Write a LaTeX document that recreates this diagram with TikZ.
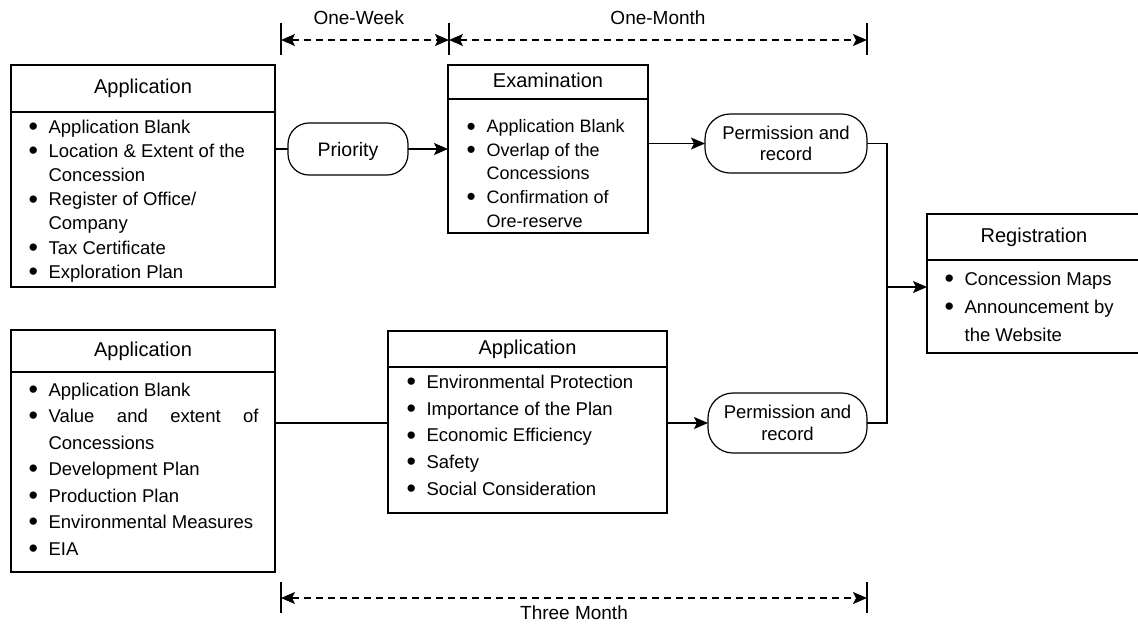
\documentclass[tikz,border=0pt]{standalone}
\usepackage{fontspec}
\setmainfont{Liberation Sans}
\usetikzlibrary{arrows.meta}

% enlarged bullet followed by a fixed gap, used in the item lists
\newcommand{\bitem}{\makebox[20pt][l]{\raisebox{-0.13em}{\scalebox{1.45}{\textbullet}}}}

\begin{document}
\begin{tikzpicture}[x=1pt,y=-1pt,
  line width=1.2pt,
  box/.style={draw,rectangle,inner sep=0pt,outer sep=0pt},
  headbox/.style={box,font=\fontsize{20}{24}\selectfont,text height=14.6pt,text depth=4.2pt},
  pill/.style={draw,rectangle,rounded corners=21pt,inner sep=0pt,outer sep=0pt,
    align=center,font=\fontsize{18.5}{21.7}\selectfont},
  itemlist/.style={anchor=base west,inner sep=0pt},
  conn/.style={line width=1.2pt},
  arr/.style={conn,-{Stealth[length=14pt,width=12pt,inset=3pt]}},
  dimline/.style={line width=1.2pt,dash pattern=on 7pt off 5pt,
    {Stealth[length=14pt,width=12pt,inset=3pt]}-{Stealth[length=14pt,width=12pt,inset=3pt]}},
  dimtext/.style={anchor=base,inner sep=0pt,font=\fontsize{19}{22}\selectfont}]

\useasboundingbox (0,0) rectangle (1138,625);

% ---- first route: application, priority, examination ----
\node[headbox,minimum width=264pt,minimum height=47pt] (app1h) at (143,88.5) {Application};
\node[box,minimum width=264pt,minimum height=175pt] (app1) at (143,199.5) {};
\node[itemlist,font=\fontsize{18.5}{24.2}\selectfont] (app1l) at (28,133) {%
  \begin{tabular}[t]{@{}l@{}l@{}}
  \bitem & Application Blank\\
  \bitem & Location \& Extent of the\\
         & Concession\\
  \bitem & Register of Office/\\
         & Company\\
  \bitem & Tax Certificate\\
  \bitem & Exploration Plan
  \end{tabular}};

\node[pill,minimum width=120pt,minimum height=52pt,font=\fontsize{19.5}{22}\selectfont,
  text height=15.4pt,text depth=0pt] (pri) at (348,149) {Priority};

\node[headbox,minimum width=200pt,minimum height=34pt] (examh) at (548,82) {Examination};
\node[box,minimum width=200pt,minimum height=134pt] (exam) at (548,166) {};
\node[itemlist,font=\fontsize{18}{23.6}\selectfont] (examl) at (466,132.7) {%
  \begin{tabular}[t]{@{}l@{}l@{}}
  \bitem & Application Blank\\
  \bitem & Overlap of the\\
         & Concessions\\
  \bitem & Confirmation of\\
         & Ore-reserve
  \end{tabular}};

\node[pill,minimum width=162pt,minimum height=59pt,rounded corners=25pt] (perm1) at (786,143.5) {Permission and\\record};

% ---- registration ----
\node[headbox,minimum width=214pt,minimum height=46pt] (regh) at (1034,237) {Registration};
\node[box,minimum width=214pt,minimum height=93pt] (reg) at (1034,306.5) {};
\node[itemlist,font=\fontsize{18.5}{28.3}\selectfont] (regl) at (944,285) {%
  \begin{tabular}[t]{@{}l@{}l@{}}
  \bitem & Concession Maps\\
  \bitem & Announcement by\\
         & the Website
  \end{tabular}};

% ---- second route: application, application review ----
\node[headbox,minimum width=264pt,minimum height=42pt] (app2h) at (143,351) {Application};
\node[box,minimum width=264pt,minimum height=200pt] (app2) at (143,472) {};
\node[itemlist,font=\fontsize{18.5}{26.5}\selectfont] (app2l) at (28,396) {%
  \begin{tabular}[t]{@{}l@{}l@{}}
  \bitem & Application Blank\\
  \bitem & \makebox[210pt][s]{Value and extent of}\\
         & Concessions\\
  \bitem & Development Plan\\
  \bitem & Production Plan\\
  \bitem & Environmental Measures\\
  \bitem & EIA
  \end{tabular}};

\node[headbox,minimum width=279pt,minimum height=36pt] (midh) at (527.5,349) {Application};
\node[box,minimum width=279pt,minimum height=146pt] (mid) at (527.5,440) {};
\node[itemlist,font=\fontsize{18.5}{26.7}\selectfont] (midl) at (406,388.3) {%
  \begin{tabular}[t]{@{}l@{}l@{}}
  \bitem & Environmental Protection\\
  \bitem & Importance of the Plan\\
  \bitem & Economic Efficiency\\
  \bitem & Safety\\
  \bitem & Social Consideration
  \end{tabular}};

\node[pill,minimum width=159pt,minimum height=60pt,rounded corners=25pt] (perm2) at (787.5,423) {Permission and\\record};

% ---- connectors ----
\coordinate (jx) at (887,287);
\draw[conn] (app1.east |- pri.west) -- (pri.west);
\draw[arr] (pri.east) -- (pri.east -| exam.west);
\draw[arr] (exam.east |- perm1.west) -- (perm1.west);
\draw[conn] (perm1.east) -| (jx) |- (perm2.east);
\draw[arr] (jx) -- (jx -| reg.west);
\draw[conn] (app2.east |- perm2.west) -- (mid.west |- perm2.west);
\draw[arr] (mid.east |- perm2.west) -- (perm2.west);

% ---- time spans ----
\coordinate (t1) at (281,40);
\coordinate (t2) at (449,40);
\coordinate (t3) at (867,40);
\coordinate (b1) at (281,598);
\coordinate (b3) at (867,598);
\foreach \c in {t1,t2,t3}
  \draw ([yshift=17pt]\c) -- ([yshift=-15pt]\c);
\foreach \c in {b1,b3}
  \draw ([yshift=16pt]\c) -- ([yshift=-15pt]\c);
\draw[dimline] (t1) -- (t2);
\draw[dimline] (t2) -- (t3);
\draw[dimline] (b1) -- (b3);
\node[dimtext] (wk) at (358.8,24) {One-Week};
\node[dimtext] (mo) at (658,24) {One-Month};
\node[dimtext] (tm) at (574,619.6) {Three Month};

\end{tikzpicture}
\end{document}
